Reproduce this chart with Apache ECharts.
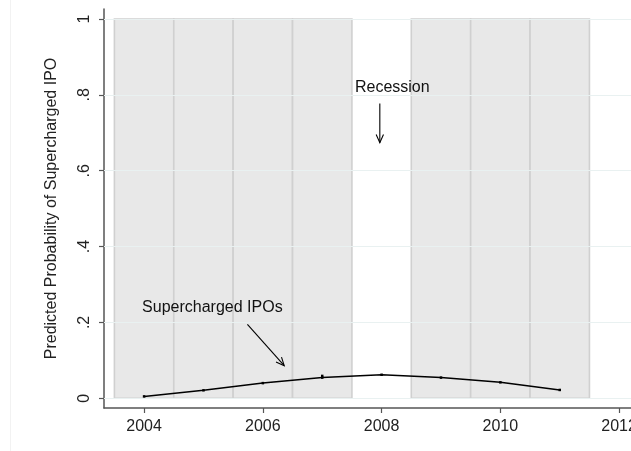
<!DOCTYPE html>
<html>
<head>
<meta charset="utf-8">
<script src="https://cdn.jsdelivr.net/npm/echarts@6/dist/echarts.min.js"></script>
<style>html,body{margin:0;padding:0;background:#fff;overflow:hidden}#c{width:631px;height:451px}</style>
</head>
<body>
<div id="c"></div>
<script>
// Predicted probability line
const years = [2004, 2005, 2006, 2007, 2007, 2008, 2009, 2010, 2011];
const prob = [0.005, 0.021, 0.040, 0.0545, 0.059, 0.062, 0.0545, 0.042, 0.022];
// Shaded bars (height 1, width 1 year)
const barYears = [2004, 2005, 2006, 2007, 2009, 2010, 2011];
const barHeight = [1, 1, 1, 1, 1, 1, 1];
// Tick values / labels
const xTicks = [2004, 2006, 2008, 2010, 2012];
const yTicks = [0, 0.2, 0.4, 0.6, 0.8, 1];
const yTickLabels = ['0', '.2', '.4', '.6', '.8', '1'];
// Annotations
const annoText = ['Supercharged IPOs', 'Recession'];
const annoTextX = [2005.15, 2008.18];
const annoTextY = [0.238, 0.819];
// Arrows: from (x, y) to (x, y)
const arrowFromX = [2005.74, 2007.97];
const arrowFromY = [0.195, 0.777];
const arrowToX = [2006.36, 2007.97];
const arrowToY = [0.086, 0.674];

const FONT = 'Liberation Sans, Arial, Helvetica, sans-serif';
const chart = echarts.init(document.getElementById('c'), null, {renderer: 'canvas', width: 631, height: 451});

const option = {
  backgroundColor: '#ffffff',
  animation: false,
  grid: {left: 104, right: 0, top: 9, bottom: 43, containLabel: false, outerBoundsMode: 'none'},
  xAxis: {
    type: 'value', min: 2003.325, max: 2012.2,
    axisLine: {show: true, onZero: false, lineStyle: {color: '#555555', width: 1.5}},
    axisTick: {show: true, length: 5, customValues: xTicks, lineStyle: {color: '#555555', width: 1.2}},
    axisLabel: {show: true, customValues: xTicks, margin: 11, color: '#222', fontFamily: FONT, fontSize: 16,
      showMinLabel: true, showMaxLabel: true, formatter: function (v) { return String(Math.round(v)); }},
    splitLine: {show: false}
  },
  yAxis: {
    type: 'value', min: -0.0256, max: 1.0264,
    name: 'Predicted Probability of Supercharged IPO',
    nameLocation: 'middle', nameRotate: 90, nameGap: 44,
    nameTextStyle: {color: '#222', fontFamily: FONT, fontSize: 16},
    axisLine: {show: true, onZero: false, lineStyle: {color: '#555555', width: 1.5}},
    axisTick: {show: true, length: 5, customValues: yTicks, lineStyle: {color: '#555555', width: 1.2}},
    axisLabel: {show: true, customValues: yTicks, rotate: 90, margin: 11, color: '#222', fontFamily: FONT, fontSize: 16,
      formatter: function (v) { const i = yTicks.findIndex(t => Math.abs(t - v) < 1e-9); return i >= 0 ? yTickLabels[i] : ''; }},
    splitLine: {show: false}
  },
  series: [
    {
      type: 'line', z: 1, data: [], silent: true,
      markLine: {
        silent: true, symbol: ['none', 'none'], label: {show: false},
        lineStyle: {color: '#e9f1f1', width: 1.2, type: 'solid'},
        data: yTicks.map(v => ({yAxis: v}))
      }
    },
    {
      type: 'custom', z: 2, silent: true,
      data: barYears.map((y, i) => [y, barHeight[i]]),
      renderItem: function (params, api) {
        const x = api.value(0), h = api.value(1);
        const p1 = api.coord([x - 0.5, h]);
        const p2 = api.coord([x + 0.5, 0]);
        return {
          type: 'rect',
          shape: {x: p1[0], y: p1[1], width: p2[0] - p1[0], height: p2[1] - p1[1]},
          style: {fill: '#e8e8e8', stroke: '#d0d0d0', lineWidth: 1.6}
        };
      }
    },
    {
      type: 'line', z: 3, silent: true,
      data: years.map((y, i) => [y, prob[i]]),
      showSymbol: true, symbol: 'rect', symbolSize: 2.5,
      itemStyle: {color: '#000'},
      lineStyle: {color: '#000', width: 1.5}
    },
    {
      type: 'custom', z: 4, silent: true,
      data: arrowFromX.map((x, i) => [x, arrowFromY[i], arrowToX[i], arrowToY[i]]),
      renderItem: function (params, api) {
        const a = api.coord([api.value(0), api.value(1)]);
        const b = api.coord([api.value(2), api.value(3)]);
        const ang = Math.atan2(b[1] - a[1], b[0] - a[0]);
        const L = 9, w = 0.42;
        const h1 = [b[0] - L * Math.cos(ang - w), b[1] - L * Math.sin(ang - w)];
        const h2 = [b[0] - L * Math.cos(ang + w), b[1] - L * Math.sin(ang + w)];
        const st = {stroke: '#000', lineWidth: 1.1, fill: null};
        return {type: 'group', children: [
          {type: 'line', shape: {x1: a[0], y1: a[1], x2: b[0], y2: b[1]}, style: st},
          {type: 'polyline', shape: {points: [h1, b, h2]}, style: st}
        ]};
      }
    },
    {
      type: 'custom', z: 5, silent: true,
      data: annoText.map((t, i) => [annoTextX[i], annoTextY[i], i]),
      renderItem: function (params, api) {
        const p = api.coord([api.value(0), api.value(1)]);
        return {
          type: 'text',
          style: {text: annoText[api.value(2)], x: p[0], y: p[1], align: 'center', verticalAlign: 'middle',
            fill: '#111', font: '16px ' + FONT}
        };
      }
    }
  ],
  graphic: [
    {type: 'line', shape: {x1: 10.5, y1: 0, x2: 10.5, y2: 451}, style: {stroke: '#f2f2f2', lineWidth: 1}, silent: true}
  ]
};
chart.setOption(option);
</script>
</body>
</html>
